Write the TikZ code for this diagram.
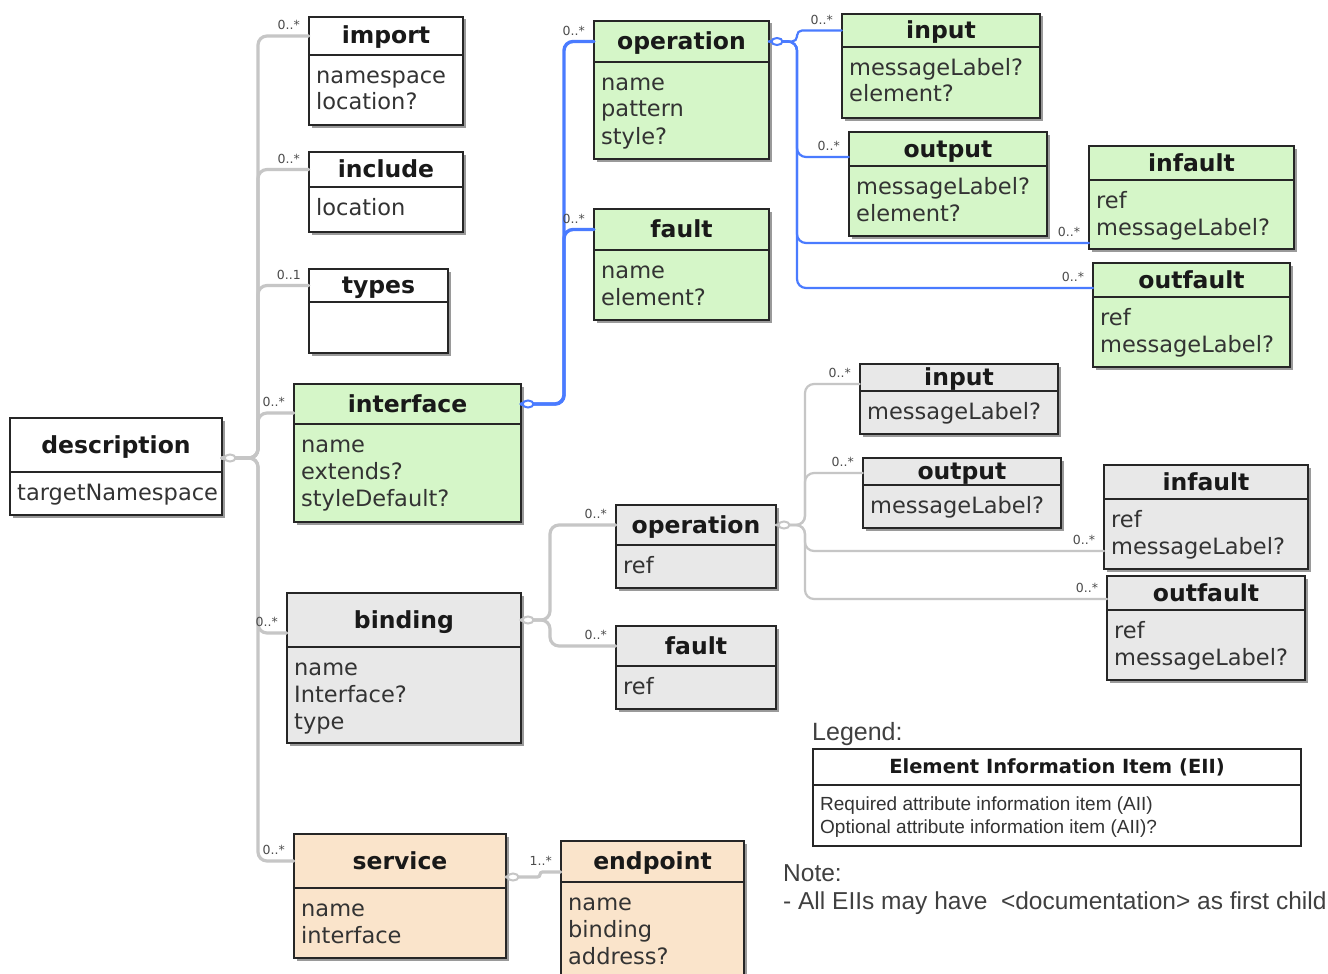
\documentclass[tikz,border=0pt]{standalone}
\usepackage{fontspec}
\setmainfont{DejaVu Sans}
\newfontfamily\arialf{Liberation Sans}
\usetikzlibrary{shapes.geometric}
\definecolor{gfill}{HTML}{D5F6C8}
\definecolor{xfill}{HTML}{E8E8E8}
\definecolor{pfill}{HTML}{FAE4CB}
\definecolor{glinec}{HTML}{C6C6C6}
\definecolor{blinec}{HTML}{4A7BFF}
\definecolor{txt}{HTML}{333333}
\definecolor{edgec}{HTML}{262626}
\definecolor{shadc}{HTML}{9A9A9A}

\tikzset{
 umlbox/.style={draw=edgec, line width=2pt, inner sep=0pt, outer sep=0pt},
 boxtitle/.style={font=\bfseries\fontsize{23.5}{28}\selectfont, text=black!90, inner sep=0pt, text height=17pt, text depth=1pt, align=center},
 boxattr/.style={font=\fontsize{22.5}{27}\selectfont, text=txt, inner sep=0pt},
 mult/.style={font=\fontsize{12.5}{14}\selectfont, text=black!70, inner sep=0pt},
 conn/.style={rounded corners=9pt, line cap=round},
 gthick/.style={conn, draw=glinec, line width=3.2pt},
 gthin/.style={conn, draw=glinec, line width=2.2pt},
 bthick/.style={conn, draw=blinec, line width=3.4pt},
 bthin/.style={conn, draw=blinec, line width=2.2pt},
 agg/.style={ellipse, fill=white, line width=2pt, minimum width=11pt, minimum height=7pt, inner sep=0pt},
}

% name, x1, y1, x2, y2, ydiv, fill, title, attributes
\newcommand{\umlbox}[9]{%
  \fill[shadc] ({#2+2.5},{#3+2.5}) rectangle ({#4+2.5},{#5+2.5});
  \node[umlbox, fill=#7, anchor=north west, minimum width={#4pt-#2pt}, minimum height={#5pt-#3pt}] (#1) at (#2,#3) {};
  \draw[draw=edgec, line width=2pt] (#2,#6) -- (#4,#6);
  \node[boxtitle, minimum width={#4pt-#2pt}] (#1-t) at ({(#2+#4)/2},{(#3+#6)/2}) {#8};
  \foreach \a [count=\i] in {#9} {\node[boxattr, anchor=base west] (#1-a\i) at ({#2+7},{#6+28+27*(\i-1)}) {\a};}
}

\begin{document}
\begin{tikzpicture}[x=1pt,y=-1pt]
\fill[white] (0,0) rectangle (1328,974);
\useasboundingbox (0,0) rectangle (1328,974);

% ---- boxes
\umlbox{desc}{10}{418}{222}{515}{472}{white}{description}{targetNamespace}
\umlbox{imp}{309}{17}{463}{125}{55}{white}{import}{namespace,location?}
\umlbox{inc}{309}{152}{463}{232}{187}{white}{include}{location}
\umlbox{typ}{309}{269}{448}{353}{302}{white}{types}{}
\umlbox{ifc}{294}{384}{521}{522}{424}{gfill}{interface}{name,extends?,styleDefault?}
\umlbox{op1}{594}{21}{769}{159}{62}{gfill}{operation}{name,pattern,style?}
\umlbox{flt1}{594}{209}{769}{320}{250}{gfill}{fault}{name,element?}
\umlbox{in1}{842}{14}{1040}{118}{47}{gfill}{input}{messageLabel?,element?}
\umlbox{out1}{849}{132}{1047}{236}{166}{gfill}{output}{messageLabel?,element?}
\umlbox{inf1}{1089}{146}{1294}{249}{180}{gfill}{infault}{ref,messageLabel?}
\umlbox{outf1}{1093}{263}{1290}{367}{297}{gfill}{outfault}{ref,messageLabel?}
\umlbox{in2}{860}{364}{1058}{434}{391}{xfill}{input}{messageLabel?}
\umlbox{out2}{863}{458}{1061}{528}{485}{xfill}{output}{messageLabel?}
\umlbox{inf2}{1104}{465}{1308}{569}{499}{xfill}{infault}{ref,messageLabel?}
\umlbox{outf2}{1107}{576}{1305}{680}{610}{xfill}{outfault}{ref,messageLabel?}
\umlbox{op2}{616}{505}{776}{588}{545}{xfill}{operation}{ref}
\umlbox{flt2}{616}{626}{776}{709}{666}{xfill}{fault}{ref}
\umlbox{bnd}{287}{593}{521}{743}{647}{xfill}{binding}{name,Interface?,type}
\umlbox{svc}{294}{834}{506}{958}{888}{pfill}{service}{name,interface}
\umlbox{ep}{561}{841}{744}{995}{882}{pfill}{endpoint}{name,binding,address?}

% ---- entry points
\coordinate (e-imp) at (imp-t.west);
\coordinate (e-inc) at (inc-t.west);
\coordinate (e-typ) at (typ-t.west);
\coordinate (e-ifc) at ([yshift=-9pt]ifc-t.west);
\coordinate (e-bnd) at ([yshift=-13pt]bnd-t.west);
\coordinate (e-svc) at (svc-t.west);
\coordinate (e-op1) at (op1-t.west);
\coordinate (e-flt1) at (flt1-t.west);
\coordinate (e-in1) at (in1-t.west);
\coordinate (e-out1) at ([yshift=-8pt]out1-t.west);
\coordinate (e-inf1) at ([yshift=-97pt]inf1.north west);
\coordinate (e-outf1) at ([yshift=-25pt]outf1.north west);
\coordinate (e-op2) at (op2-t.west);
\coordinate (e-flt2) at (flt2-t.west);
\coordinate (e-in2) at ([yshift=-6.5pt]in2-t.west);
\coordinate (e-out2) at ([yshift=-1.5pt]out2-t.west);
\coordinate (e-inf2) at ([yshift=-86pt]inf2.north west);
\coordinate (e-outf2) at ([yshift=-23pt]outf2.north west);
\coordinate (e-ep) at ([yshift=-10.5pt]ep-t.west);

% ---- trunks
\coordinate (t-desc) at (258,458);
\coordinate (t-ifc) at (564,404);
\coordinate (t-op1) at (797,41.5);
\coordinate (t-bnd) at (550,620);
\coordinate (t-op2) at (805,525);
\coordinate (t-svc) at (540,877);

% ---- connectors
\foreach \e in {imp,inc,typ,ifc,bnd,svc} \draw[gthick] (desc.east |- t-desc) -- (t-desc) |- (e-\e);
\foreach \e in {op1,flt1} \draw[bthick] (ifc.east |- t-ifc) -- (t-ifc) |- (e-\e);
\draw[bthin, rounded corners=5pt] (op1.east |- t-op1) -- (t-op1) |- (e-in1);
\foreach \e in {out1,inf1,outf1} \draw[bthin] (op1.east |- t-op1) -- (t-op1) |- (e-\e);
\foreach \e in {op2,flt2} \draw[gthick] (bnd.east |- t-bnd) -- (t-bnd) |- (e-\e);
\foreach \e in {in2,out2,inf2,outf2} \draw[gthin] (op2.east |- t-op2) -- (t-op2) |- (e-\e);
\draw[gthick, rounded corners=2.5pt] (svc.east |- t-svc) -- (t-svc) |- (e-ep);

% ---- aggregation markers (hollow)
\node[agg, draw=glinec] (a-desc) at (230,458) {};
\node[agg, draw=blinec] (a-ifc) at (528,404) {};
\node[agg, draw=blinec] (a-op1) at (777,41.5) {};
\node[agg, draw=glinec] (a-bnd) at (528,620) {};
\node[agg, draw=glinec] (a-op2) at (784,525) {};
\node[agg, draw=glinec] (a-svc) at (513,877) {};

% ---- multiplicities
\foreach \e in {imp,inc,ifc,bnd,svc,op1,flt1,in1,out1,inf1,outf1,op2,flt2,in2,out2,inf2,outf2}
  \node[mult] (m-\e) at ([xshift=-20pt,yshift=11pt]e-\e) {0..*};
\node[mult] (m-typ) at ([xshift=-20pt,yshift=11pt]e-typ) {0..1};
\node[mult] (m-ep) at ([xshift=-20pt,yshift=11pt]e-ep) {1..*};

% ---- legend
\node[font=\arialf\fontsize{25}{30}\selectfont, text=black!75, inner sep=0pt, anchor=base west] (leg) at (812,740) {Legend:};
\node[umlbox, fill=white, anchor=north west, minimum width=488pt, minimum height=97pt] (lbox) at (813,749) {};
\draw[draw=edgec, line width=2pt] (813,785) -- (1301,785);
\node[font=\bfseries\fontsize{19.5}{24}\selectfont, text=black!90, inner sep=0pt] (lbox-t) at (1057,767) {Element Information Item (EII)};
\node[font=\arialf\fontsize{19}{23}\selectfont, text=txt, inner sep=0pt, anchor=base west] (lbox-a1) at (820,810) {Required attribute information item (AII)};
\node[font=\arialf\fontsize{19}{23}\selectfont, text=txt, inner sep=0pt, anchor=base west] (lbox-a2) at (820,833) {Optional attribute information item (AII)?};

\node[font=\arialf\fontsize{24.5}{29}\selectfont, text=black!75, inner sep=0pt, anchor=base west] (note) at (783,881) {Note:};
\node[font=\arialf\fontsize{24.5}{29}\selectfont, text=black!75, inner sep=0pt, anchor=base west] (note2) at (783,909) {- All EIIs may have\ \ <documentation> as first child};
\end{tikzpicture}
\end{document}
